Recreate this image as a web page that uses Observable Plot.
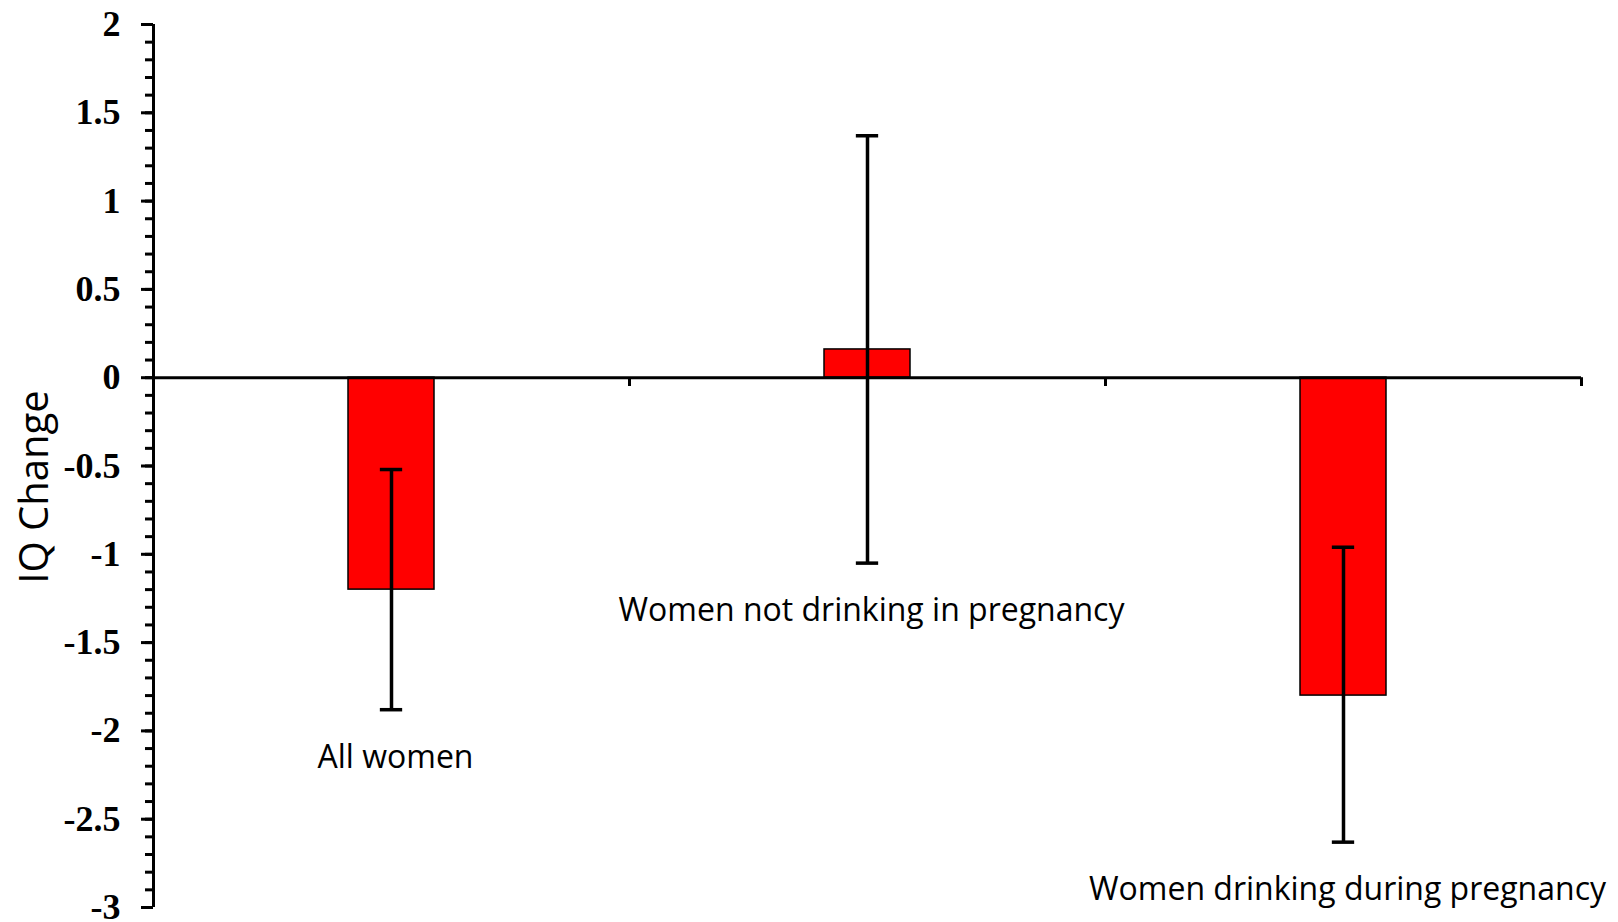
<!DOCTYPE html>
<html>
<head>
<meta charset="utf-8">
<script src="https://cdn.jsdelivr.net/npm/d3@7"></script>
<script src="https://cdn.jsdelivr.net/npm/@observablehq/plot@0.6"></script>
<style>
  html, body { margin: 0; padding: 0; background: #ffffff; }
  #chart { width: 1618px; height: 922px; }
</style>
</head>
<body>
<div id="chart"></div>
<script>
const categories = ["All women", "Women not drinking in pregnancy", "Women drinking during pregnancy"];
const iqChange = [-1.2, 0.16, -1.8];
const errLow = [-1.88, -1.05, -2.63];
const errHigh = [-0.52, 1.37, -0.96];
const yTicks = [2, 1.5, 1, 0.5, 0, -0.5, -1, -1.5, -2, -2.5, -3];
const yTickLabels = ["2", "1.5", "1", "0.5", "0", "-0.5", "-1", "-1.5", "-2", "-2.5", "-3"];
const yMinorTicks = d3.range(-30, 21, 1).map(d => d / 10);
const yTitle = "IQ Change";

const rows = categories.map((c, i) => ({category: c, value: iqChange[i], low: errLow[i], high: errHigh[i]}));

const W = 1618, H = 922;
const mL = 153, mR = 37, mT = 24, mB = 15;
const halfStep = (W - mL - mR) / categories.length / 2;
const capInset = ((W - mL - mR) / categories.length * 0.18 - 22) / 2;

const chart = Plot.plot({
  width: W,
  height: H,
  marginLeft: mL,
  marginRight: mR,
  marginTop: mT,
  marginBottom: mB,
  style: {background: "#ffffff", overflow: "visible"},
  x: {domain: categories, paddingInner: 0.82, paddingOuter: 0.41, axis: null},
  y: {domain: [-3, 2], axis: null},
  marks: [
    Plot.barY(rows, {x: "category", y: "value", fill: "#ff0000", stroke: "#000000", strokeWidth: 1.5}),
    Plot.ruleY([0], {stroke: "#000000", strokeWidth: 3}),
    Plot.ruleX([categories[0]], {x: d => d, dx: -halfStep, y1: -3, y2: 2, stroke: "#000000", strokeWidth: 3}),
    Plot.ruleX(categories, {x: d => d, dx: halfStep, y1: 0, y2: -0.05, stroke: "#000000", strokeWidth: 3}),
    Plot.axisY({anchor: "left", ticks: yMinorTicks, tickSize: 8, text: null, label: null, stroke: "#000000", strokeWidth: 3}),
    Plot.axisY({
      anchor: "left", ticks: yTicks, tickSize: 12, tickPadding: 21, label: null,
      tickFormat: d => yTickLabels[yTicks.indexOf(d)],
      stroke: "#000000", strokeWidth: 3,
      fontFamily: "Liberation Serif", fontWeight: "bold", fontSize: 36, fill: "#000000"
    }),
    Plot.ruleX(rows, {x: "category", y1: "low", y2: "high", stroke: "#000000", strokeWidth: 3.5}),
    Plot.tickY(rows, {x: "category", y: "low", inset: capInset, stroke: "#000000", strokeWidth: 3.5}),
    Plot.tickY(rows, {x: "category", y: "high", inset: capInset, stroke: "#000000", strokeWidth: 3.5}),
    Plot.text(rows, {x: "category", y: "low", text: "category", dx: 4, dy: 48, fontFamily: "Open Sans", fontSize: 32, fill: "#000000"}),
    Plot.text([yTitle], {text: d => d, frameAnchor: "left", textAnchor: "middle", rotate: -90, dx: -118, dy: 21, fontFamily: "Open Sans", fontSize: 40, fill: "#000000"})
  ]
});

document.getElementById("chart").appendChild(chart);
</script>
</body>
</html>
